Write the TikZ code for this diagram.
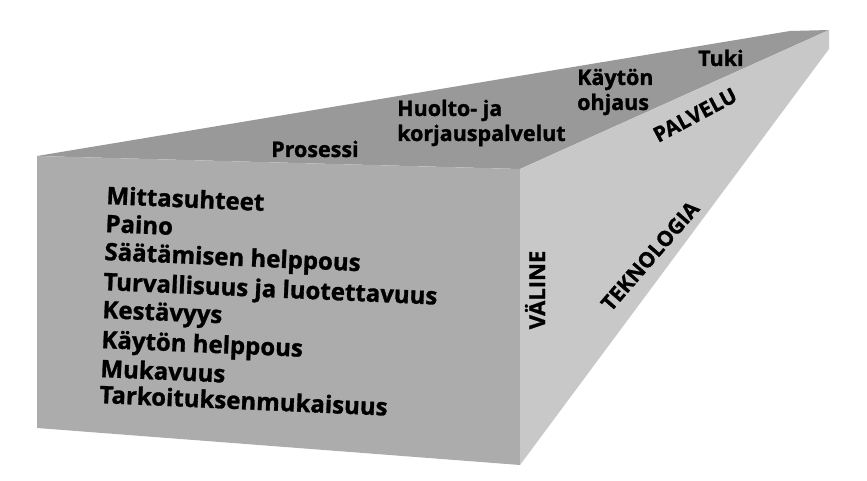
\documentclass[tikz,border=0pt]{standalone}
\usepackage{fontspec}
\setmainfont{Open Sans}[BoldFeatures={FakeBold=1.2}]
\definecolor{topgray}{gray}{0.60}
\definecolor{frontgray}{gray}{0.675}
\definecolor{sidegray}{gray}{0.785}
\begin{document}
\begin{tikzpicture}[x=1pt,y=-1pt,
        listitem/.style={anchor=base west, rotate=-2.5, inner sep=0pt,
            font=\bfseries\fontsize{24}{28}\selectfont},
        toplabel/.style={anchor=base west, inner sep=0pt,
            font=\bfseries\fontsize{21.5}{24}\selectfont},
        sidelabel/.style={inner sep=0pt, font=\bfseries\fontsize{21}{24}\selectfont}]

        \useasboundingbox (0,0) rectangle (867,481);

        % faces of the block
        \fill[topgray] (37,156) -- (790,31) -- (829,30) -- (520,169) -- cycle;
        \fill[frontgray] (37,156) -- (520,169) -- (520,465) -- (37,428) -- cycle;
        \fill[sidegray] (520,169) -- (829,30) -- (829,49) -- (520,465) -- cycle;

        % front face
        \node[listitem] (mitta) at (106,204) {Mittasuhteet};
        \node[listitem] (paino) at (105,232) {Paino};
        \node[listitem] (saato) at (104,260) {Säätämisen helppous};
        \node[listitem] (turva) at (103,290) {Turvallisuus ja luotettavuus};
        \node[listitem] (kesto) at (102,318) {Kestävyys};
        \node[listitem] (kaytto) at (101,348) {Käytön helppous};
        \node[listitem] (muka) at (100,377) {Mukavuus};
        \node[listitem] (tarkoitus) at (99,403) {Tarkoituksenmukaisuus};

        % top face
        \node[toplabel] (prosessi) at (271,157) {Prosessi};
        \node[toplabel] (huolto) at (397,116) {Huolto- ja};
        \node[toplabel] (korjaus) at (397,141) {korjauspalvelut};
        \node[toplabel] (kayton) at (577,85) {Käytön};
        \node[toplabel] (ohjaus) at (577,110) {ohjaus};
        \node[toplabel] (tuki) at (698,66) {Tuki};

        % side face
        \node[sidelabel, rotate=28] (palvelu) at (695,115) {PALVELU};
        \node[sidelabel, rotate=49] (tekno) at (650,256) {TEKNOLOGIA};
        \node[sidelabel, rotate=90, font=\bfseries\fontsize{22}{24}\selectfont] (valine) at (535,290) {VÄLINE};
    \end{tikzpicture}
\end{document}
